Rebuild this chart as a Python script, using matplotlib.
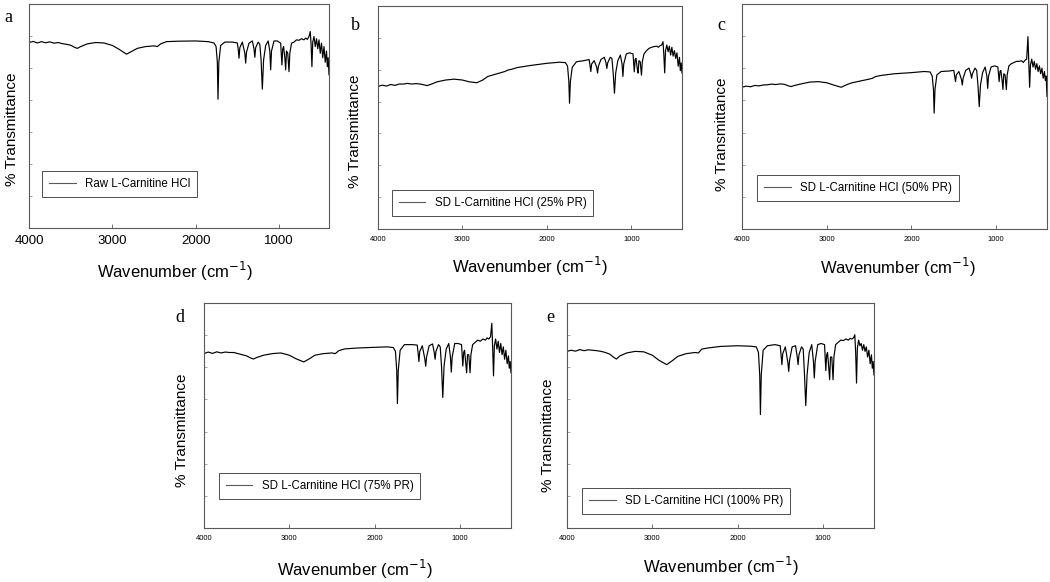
import numpy as np
import matplotlib
matplotlib.use('Agg')
import matplotlib.pyplot as plt

plt.rcParams['font.family'] = ['Liberation Sans', 'DejaVu Sans']

# shared wavenumber grid (cm-1)
wavenumber = [4000, 3950, 3900, 3850, 3800, 3750, 3700, 3650, 3600, 3550,
              3500, 3450, 3420, 3380, 3300, 3200, 3100, 3000, 2920, 2830,
              2760, 2700, 2600, 2500, 2460, 2420, 2350, 2200, 2000, 1850,
              1780, 1755, 1740, 1732, 1722, 1700, 1650, 1560, 1500, 1490,
              1480, 1470, 1440, 1410, 1400, 1390, 1360, 1320, 1300, 1290,
              1280, 1250, 1230, 1215, 1200, 1185, 1160, 1130, 1110, 1100,
              1090, 1060, 1020, 980, 965, 955, 945, 930, 920, 910,
              895, 880, 870, 850, 820, 790, 760, 730, 700, 680,
              660, 640, 625, 615, 605, 595, 580, 565, 550, 535,
              520, 505, 490, 475, 460, 445, 430, 420, 410, 400]

raw = [82.8, 83.3, 82.6, 83.2, 82.7, 83.1, 82.5, 82.8, 82.3, 82.0,
       81.6, 80.6, 80.2, 81.0, 82.2, 82.8, 82.6, 81.5, 79.8, 77.6,
       79.0, 80.2, 81.0, 81.3, 81.0, 82.2, 83.2, 83.4, 83.5, 83.2,
       82.6, 81.0, 74.0, 57.5, 74.0, 81.5, 83.0, 83.0, 82.6, 80.0,
       75.8, 80.5, 83.0, 78.0, 73.6, 78.5, 82.5, 83.5, 80.0, 76.2,
       80.5, 83.0, 82.0, 75.0, 62.0, 75.0, 81.5, 83.5, 79.0, 70.6,
       79.0, 83.5, 83.5, 82.5, 72.8, 80.0, 81.0, 76.0, 70.6, 79.0,
       78.0, 69.8, 78.0, 82.5, 83.0, 84.0, 83.8, 84.5, 84.0, 84.8,
       84.2, 85.5, 87.7, 82.0, 72.0, 83.0, 85.5, 81.0, 84.5, 80.0,
       84.0, 78.0, 82.5, 76.0, 81.0, 74.0, 79.0, 72.0, 76.0, 68.4]

pr25 = [63.9, 64.5, 64.1, 64.8, 64.4, 65.0, 65.0, 65.3, 65.0, 65.2,
        65.0, 64.6, 64.3, 64.8, 66.0, 66.8, 67.2, 66.8, 66.0, 65.6,
        66.8, 68.4, 69.5, 70.6, 71.3, 71.6, 72.4, 73.3, 74.3, 74.8,
        74.6, 73.0, 66.0, 56.4, 66.0, 72.5, 75.0, 75.5, 76.0, 73.5,
        70.6, 74.0, 75.5, 72.5, 69.9, 73.0, 76.0, 77.0, 74.5, 72.0,
        74.5, 77.0, 76.5, 70.0, 60.9, 70.0, 75.5, 78.0, 74.0, 68.4,
        74.0, 78.5, 79.0, 78.5, 70.5, 76.0, 76.5, 72.0, 69.9, 75.5,
        75.0, 69.0, 75.0, 78.5, 80.0, 81.0, 81.5, 81.8, 82.0, 81.5,
        82.2, 82.5, 84.0, 78.0, 70.0, 80.0, 82.5, 79.5, 82.0, 78.0,
        81.5, 77.5, 80.0, 76.5, 79.0, 73.0, 77.0, 71.0, 74.5, 70.0]

pr50 = [63.0, 63.5, 63.2, 63.8, 63.6, 64.0, 64.1, 64.4, 64.2, 64.5,
        64.3, 63.6, 63.3, 63.8, 64.5, 65.3, 65.5, 65.0, 64.0, 63.0,
        64.2, 65.0, 65.8, 66.6, 67.0, 67.8, 68.3, 69.0, 69.5, 70.0,
        69.8, 68.0, 62.0, 51.5, 62.0, 68.5, 70.0, 70.2, 70.5, 68.0,
        65.5, 68.5, 70.0, 66.5, 64.0, 67.0, 70.5, 71.5, 69.0, 67.0,
        69.0, 71.5, 70.5, 64.0, 54.4, 64.0, 69.5, 72.0, 68.0, 62.5,
        68.0, 72.0, 72.5, 72.0, 65.5, 70.0, 70.5, 66.0, 62.0, 69.0,
        68.5, 62.0, 68.5, 72.5, 73.5, 74.0, 74.5, 74.5, 74.8, 74.0,
        75.0, 75.5, 85.5, 74.0, 63.0, 73.0, 75.5, 72.0, 74.5, 71.0,
        73.5, 70.0, 72.5, 69.0, 71.5, 67.0, 70.0, 66.0, 68.0, 58.9]

pr75 = [77.5, 78.2, 77.6, 78.3, 77.8, 78.2, 78.0, 78.0, 77.5, 77.0,
        76.5, 75.5, 75.1, 75.8, 76.8, 77.5, 77.8, 76.8, 75.2, 73.8,
        75.3, 76.8, 77.5, 77.8, 77.5, 78.8, 79.6, 80.0, 80.3, 80.5,
        80.2, 78.5, 70.0, 55.3, 70.0, 79.0, 81.5, 81.5, 81.3, 78.0,
        74.0, 78.5, 81.0, 75.0, 71.9, 76.0, 81.0, 81.8, 78.0, 75.0,
        78.5, 81.5, 80.5, 72.0, 58.0, 72.0, 79.5, 82.0, 76.0, 69.3,
        76.0, 82.0, 82.0, 81.5, 72.0, 78.0, 79.0, 73.0, 69.0, 77.0,
        77.0, 69.0, 77.0, 81.5, 82.5, 83.5, 83.0, 84.0, 83.5, 84.5,
        84.0, 85.0, 91.0, 80.0, 67.6, 81.0, 84.0, 79.5, 83.0, 78.0,
        82.0, 77.0, 80.5, 75.0, 79.0, 73.0, 76.5, 71.0, 74.0, 69.0]

pr100 = [78.5, 79.0, 78.6, 79.3, 78.8, 79.2, 79.0, 78.8, 78.5, 78.0,
         77.3, 75.8, 75.1, 76.5, 77.8, 78.5, 78.3, 76.8, 74.5, 72.6,
         74.5, 76.3, 77.5, 78.0, 77.8, 79.5, 80.0, 80.7, 81.0, 80.8,
         80.5, 78.0, 68.0, 50.4, 68.0, 79.0, 81.0, 81.5, 81.0, 77.0,
         72.6, 77.5, 80.5, 73.5, 69.6, 74.5, 80.5, 81.0, 76.0, 72.6,
         77.0, 80.5, 79.5, 68.0, 54.4, 68.0, 78.0, 81.5, 74.0, 66.7,
         74.0, 81.5, 82.0, 81.5, 70.0, 77.0, 78.0, 71.0, 65.9, 76.0,
         76.0, 65.9, 76.0, 81.5, 82.5, 83.5, 83.3, 84.0, 83.5, 84.3,
         84.0, 84.5, 85.9, 78.0, 64.4, 80.0, 83.5, 81.0, 82.0, 79.0,
         81.5, 78.5, 80.5, 76.0, 79.0, 73.0, 77.0, 71.0, 74.0, 68.0]

letters = ['a', 'b', 'c', 'd', 'e']
labels = ['Raw L-Carnitine HCl', 'SD L-Carnitine HCl (25% PR)',
          'SD L-Carnitine HCl (50% PR)', 'SD L-Carnitine HCl (75% PR)',
          'SD L-Carnitine HCl (100% PR)']
spectra = [raw, pr25, pr50, pr75, pr100]
xticks = [4000, 3000, 2000, 1000]

W, H = 1050, 582
# axes boxes in pixels: left, top, right, bottom
boxes = [(29, 4, 329, 228), (378, 6, 682, 229), (742, 4, 1047, 229),
         (204, 303, 511, 528), (567, 303, 874, 528)]
tick_fs = [9.5, 5.5, 5.5, 5.5, 5.5]
leg_pos = [(0.044, 0.14), (0.046, 0.06), (0.05, 0.126), (0.049, 0.13), (0.05, 0.062)]
xlab_pos = [(0.487, -0.196), (0.5, -0.166), (0.51, -0.173), (0.49, -0.185), (0.5, -0.173)]
ylab_pos = [(-0.057, 0.44), (-0.076, 0.44), (-0.066, 0.42), (-0.072, 0.435), (-0.062, 0.41)]
letter_pos = [(8, 17), (355, 25), (721, 25), (180, 317), (550, 318)]

fig = plt.figure(figsize=(W / 100, H / 100), dpi=100)

for i in range(5):
    l, t, r, b = boxes[i]
    ax = fig.add_axes([l / W, 1 - b / H, (r - l) / W, (b - t) / H])
    ax.plot(wavenumber, spectra[i], color='black', lw=0.85, label=labels[i])
    ax.set_xlim(4000, 400)
    ax.set_ylim(0, 100)
    ax.set_xticks(xticks)
    ax.set_xticklabels([str(v) for v in xticks])
    ax.set_yticks(np.linspace(0, 100, 8))
    ax.set_yticklabels([])
    ax.tick_params(axis='x', direction='in', length=3, width=0.6,
                   labelsize=tick_fs[i], pad=5, colors='0.35', labelcolor='black')
    ax.tick_params(axis='y', direction='in', length=2, width=0.5, colors='0.5')
    for s in ax.spines.values():
        s.set_color('0.35')
        s.set_linewidth(0.8)

    ax.set_xlabel('Wavenumber (cm$^{-1}$)', fontsize=12)
    ax.xaxis.set_label_coords(*xlab_pos[i])
    ax.xaxis.label.set_va('center')
    ax.set_ylabel('% Transmittance', fontsize=11)
    ax.yaxis.set_label_coords(*ylab_pos[i])
    ax.yaxis.label.set_va('center')

    leg = ax.legend(loc='lower left', bbox_to_anchor=leg_pos[i], borderaxespad=0,
                    fontsize=8.3, fancybox=False, edgecolor='0.3', framealpha=1,
                    handlelength=2.3, handletextpad=0.8, borderpad=0.6)
    leg.get_frame().set_linewidth(0.7)
    for ln in leg.get_lines():
        ln.set_color('0.35')
        ln.set_linewidth(0.8)

    lx, ly = letter_pos[i]
    fig.text(lx / W, 1 - ly / H, letters[i], family='Liberation Serif',
             fontsize=13, ha='center', va='center')

fig.savefig('out.png', dpi=100)
